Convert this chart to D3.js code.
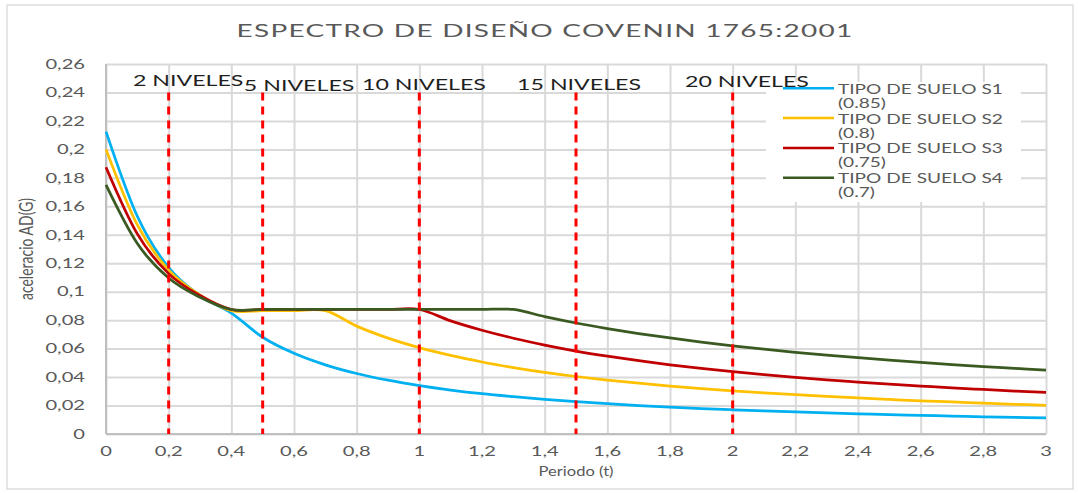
<!DOCTYPE html>
<html>
<head>
<meta charset="utf-8">
<script src="https://cdn.jsdelivr.net/npm/d3@7"></script>
<style>
  body { margin: 0; background: #fff; }
  svg { display: block; }
  text { font-family: Lato, "Open Sans", sans-serif; }
</style>
</head>
<body>
<svg id="chart" width="1078" height="493"></svg>
<script>
// Periodo (s)
const periods = [0, 0.1, 0.2, 0.3, 0.4, 0.5, 0.6, 0.7, 0.8, 0.9, 1.0,
  1.1, 1.2, 1.3, 1.4, 1.5, 1.6, 1.7, 1.8, 1.9, 2.0,
  2.1, 2.2, 2.3, 2.4, 2.5, 2.6, 2.7, 2.8, 2.9, 3.0];

// Aceleración espectral de diseño Ad (g) por tipo de suelo
const sueloS1 = [0.2125, 0.1530, 0.1169, 0.0972, 0.0850, 0.0680, 0.0567, 0.0486, 0.0425, 0.0378, 0.0340,
  0.0309, 0.0283, 0.0262, 0.0243, 0.0227, 0.0213, 0.0200, 0.0189, 0.0179, 0.0170,
  0.0162, 0.0155, 0.0148, 0.0142, 0.0136, 0.0131, 0.0126, 0.0121, 0.0117, 0.0113];
const sueloS2 = [0.2000, 0.1469, 0.1151, 0.0976, 0.0867, 0.0867, 0.0867, 0.0867, 0.0758, 0.0674, 0.0607,
  0.0552, 0.0506, 0.0467, 0.0433, 0.0404, 0.0379, 0.0357, 0.0337, 0.0319, 0.0303,
  0.0289, 0.0276, 0.0264, 0.0253, 0.0243, 0.0233, 0.0225, 0.0217, 0.0209, 0.0202];
const sueloS3 = [0.1875, 0.1406, 0.1127, 0.0973, 0.0875, 0.0875, 0.0875, 0.0875, 0.0875, 0.0875, 0.0875,
  0.0795, 0.0729, 0.0673, 0.0625, 0.0583, 0.0547, 0.0515, 0.0486, 0.0461, 0.0438,
  0.0417, 0.0398, 0.0380, 0.0365, 0.0350, 0.0337, 0.0324, 0.0313, 0.0302, 0.0292];
const sueloS4 = [0.1750, 0.1338, 0.1096, 0.0961, 0.0875, 0.0875, 0.0875, 0.0875, 0.0875, 0.0875, 0.0875,
  0.0875, 0.0875, 0.0875, 0.0825, 0.0780, 0.0741, 0.0706, 0.0675, 0.0646, 0.0620,
  0.0596, 0.0574, 0.0554, 0.0536, 0.0519, 0.0503, 0.0488, 0.0474, 0.0461, 0.0448];

const seriesNames = ["TIPO DE SUELO S1", "TIPO DE SUELO S2", "TIPO DE SUELO S3", "TIPO DE SUELO S4"];
const seriesPhi = ["(0.85)", "(0.8)", "(0.75)", "(0.7)"];
const seriesColors = ["#00b0f0", "#ffc000", "#c00000", "#3a5a22"];

// Periodos fundamentales de referencia según número de niveles
const nivelPeriods = [0.2, 0.5, 1.0, 1.5, 2.0];
const nivelTop = 0.24;
const nivelLabels = ["2 NIVELES", "5 NIVELES", "10 NIVELES", "15 NIVELES", "20 NIVELES"];
const nivelLabelT = [0.086, 0.440, 0.817, 1.312, 1.848];
const nivelLabelA = [0.2444, 0.2409, 0.2416, 0.2416, 0.2440];

const xTicks = [0, 0.2, 0.4, 0.6, 0.8, 1, 1.2, 1.4, 1.6, 1.8, 2, 2.2, 2.4, 2.6, 2.8, 3];
const yTicks = [0, 0.02, 0.04, 0.06, 0.08, 0.1, 0.12, 0.14, 0.16, 0.18, 0.2, 0.22, 0.24, 0.26];

const titleText = "ESPECTRO DE DISEÑO COVENIN 1765:2001";
const xTitle = "Periodo (t)";
const yTitle = "aceleracio AD(G)";

// ---------------------------------------------------------------
const svg = d3.select("#chart");
const plot = { left: 106, right: 1046, top: 64, bottom: 434 };

const x = d3.scaleLinear().domain([0, 3]).range([plot.left, plot.right]);
const y = d3.scaleLinear().domain([0, 0.26]).range([plot.bottom, plot.top]);

const es = d3.formatLocale({ decimal: ",", thousands: ".", grouping: [3], currency: ["", "€"] });
const fmt = es.format("~f");

const GRID = "#d9d9d9", AXIS = "#bfbfbf", LABEL = "#595959";

// Texto con estiramiento horizontal (y espaciado opcional)
function label(parent, str, px, py, o) {
  const t = parent.append("text")
    .attr("font-size", o.size)
    .attr("fill", o.fill || LABEL)
    .attr("text-anchor", o.anchor || "start")
    .text(str);
  let sx = o.sx || 1;
  if (o.width) {
    const w = t.node().getComputedTextLength();
    if (o.spacing) {
      t.attr("letter-spacing", (o.width / sx - w) / (str.length - 1));
    } else {
      sx = o.width / w;
    }
  }
  t.attr("transform", `translate(${px},${py}) scale(${sx},1)` + (o.rotate ? ` rotate(${o.rotate})` : ""));
  return t;
}

// Marco del gráfico
svg.append("rect")
  .attr("x", 7).attr("y", 5).attr("width", 1066).attr("height", 484)
  .attr("fill", "#fff").attr("stroke", GRID).attr("stroke-width", 1.3);

// Cuadrícula
const gx = svg.append("g")
  .attr("transform", `translate(0,${plot.bottom})`)
  .call(d3.axisBottom(x).tickValues(xTicks).tickSize(-(plot.bottom - plot.top)).tickFormat(""));
gx.select(".domain").remove();
gx.selectAll(".tick line").attr("stroke", GRID).attr("stroke-width", 2);

const gy = svg.append("g")
  .attr("transform", `translate(${plot.left},0)`)
  .call(d3.axisLeft(y).tickValues(yTicks).tickSize(-(plot.right - plot.left)).tickFormat(""));
gy.select(".domain").remove();
gy.selectAll(".tick line").attr("stroke", GRID).attr("stroke-width", 2);

// Líneas de ejes
svg.append("line").attr("x1", plot.left).attr("x2", plot.left)
  .attr("y1", plot.top).attr("y2", plot.bottom).attr("stroke", AXIS).attr("stroke-width", 2);
svg.append("line").attr("x1", plot.left).attr("x2", plot.right)
  .attr("y1", plot.bottom).attr("y2", plot.bottom).attr("stroke", AXIS).attr("stroke-width", 2);

// Etiquetas de ticks
const tickG = svg.append("g");
yTicks.forEach(v => label(tickG, fmt(v), 85, y(v) + 4.8, { size: 13, anchor: "end", sx: 1.55 }));
xTicks.forEach(v => label(tickG, fmt(v), x(v), 456, { size: 13, anchor: "middle", sx: 1.55 }));

// Títulos de ejes
label(svg, xTitle, (plot.left + plot.right) / 2, 476, { size: 14, anchor: "middle", width: 75 });
label(svg, yTitle, 33, (plot.top + plot.bottom) / 2, { size: 14, anchor: "middle", sx: 1.35, rotate: -90 });

// Título
label(svg, titleText, 545, 37, { size: 17.5, anchor: "middle", sx: 1.6, width: 616, spacing: true });

// Curvas espectrales
const allSeries = [sueloS1, sueloS2, sueloS3, sueloS4];
const line = d3.line()
  .x((d, i) => x(periods[i]))
  .y(d => y(d))
  .curve(d3.curveCatmullRom.alpha(0));

svg.append("g").selectAll("path")
  .data(allSeries)
  .join("path")
  .attr("d", d => line(d))
  .attr("fill", "none")
  .attr("stroke", (d, i) => seriesColors[i])
  .attr("stroke-width", 2.75)
  .attr("stroke-linejoin", "round");

// Líneas de periodo por número de niveles
svg.append("g").selectAll("line")
  .data(nivelPeriods)
  .join("line")
  .attr("x1", d => x(d)).attr("x2", d => x(d))
  .attr("y1", y(nivelTop)).attr("y2", y(0))
  .attr("stroke", "#ff0000")
  .attr("stroke-width", 3)
  .attr("stroke-dasharray", "8,6");

// Leyenda
const leg = svg.append("g");
leg.append("rect").attr("x", 766).attr("y", 82).attr("width", 255).attr("height", 120).attr("fill", "#fff");
const legSx = (() => {
  const t = leg.append("text").attr("font-size", 13).text(seriesNames[0]);
  const w = t.node().getComputedTextLength();
  t.remove();
  return 165 / w;
})();
seriesNames.forEach((name, i) => {
  const ly = 88.3 + i * 29.8;
  leg.append("line").attr("x1", 783).attr("x2", 834).attr("y1", ly).attr("y2", ly)
    .attr("stroke", seriesColors[i]).attr("stroke-width", 2.5);
  label(leg, name, 838, ly + 5.5, { size: 13, sx: legSx });
  label(leg, seriesPhi[i], 838, ly + 19.5, { size: 13, sx: legSx });
});

// Rótulos de niveles
const nivSx = (() => {
  const t = svg.append("text").attr("font-size", 16).text(nivelLabels[2]);
  const w = t.node().getComputedTextLength();
  t.remove();
  return 124 / w;
})();
nivelLabels.forEach((s, i) => {
  label(svg, s, x(nivelLabelT[i]), y(nivelLabelA[i]), { size: 16, fill: "#1f1f1f", sx: nivSx });
});
</script>
</body>
</html>
